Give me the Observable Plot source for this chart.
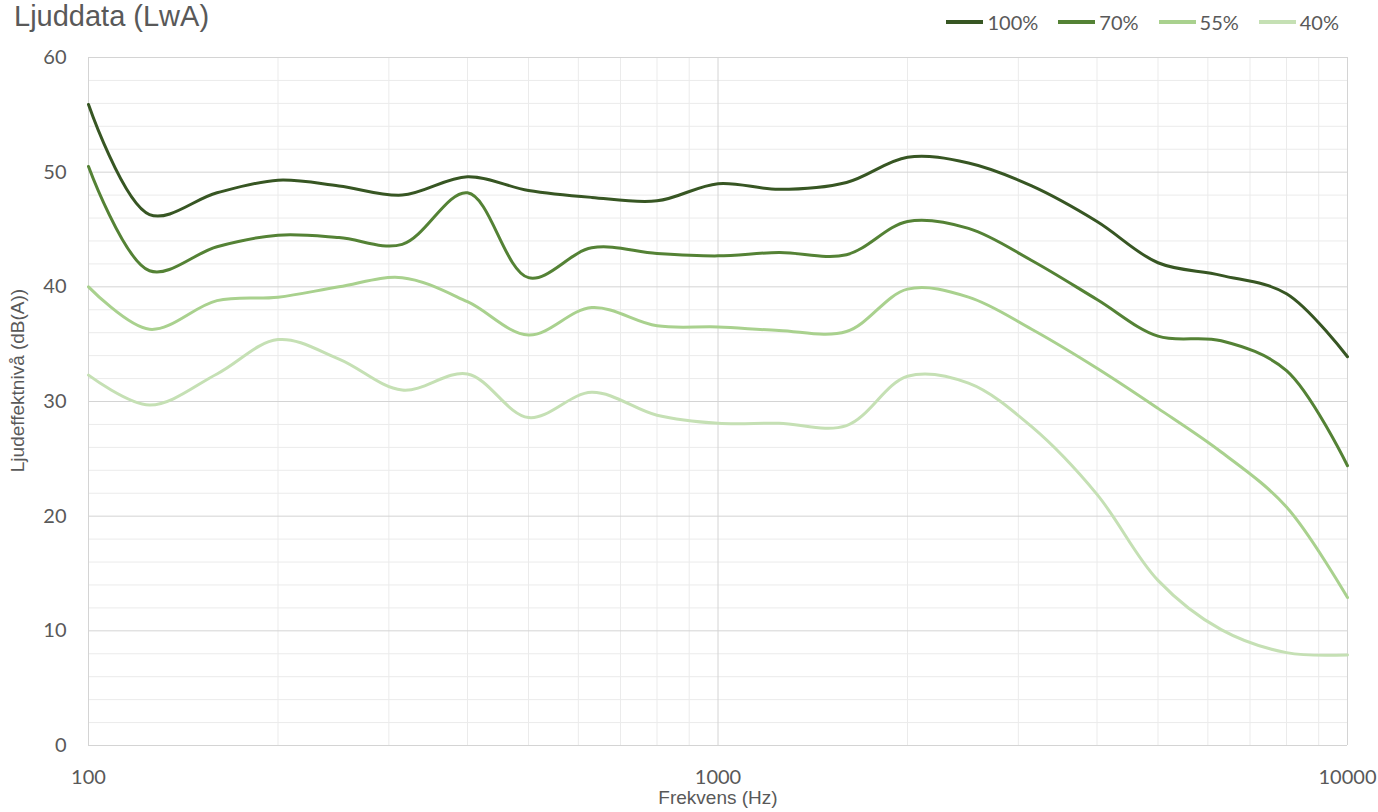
<!DOCTYPE html>
<html>
<head>
<meta charset="utf-8">
<script src="https://cdn.jsdelivr.net/npm/d3@7"></script>
<script src="https://cdn.jsdelivr.net/npm/@observablehq/plot@0.6"></script>
<style>
  body { margin: 0; background: #fff; }
  #wrap { position: relative; width: 1378px; height: 812px; overflow: hidden; background: #fff; }
  #header { position: relative; height: 40px; }
  #title { position: absolute; left: 14px; top: 2px; font: 29px "Liberation Sans", Arial, sans-serif; line-height: 1; color: #595959; white-space: nowrap; }
  #legend { position: absolute; right: 39px; top: 12px; height: 20px; display: flex; align-items: center; font: 20px Lato, "Open Sans", sans-serif; color: #595959; }
  .item { display: flex; align-items: center; margin-left: 20px; }
  .sw { width: 37px; height: 4px; margin-right: 4px; }
</style>
</head>
<body>
<div id="wrap">
  <div id="header">
    <div id="title">Ljuddata (LwA)</div>
    <div id="legend"></div>
  </div>
  <div id="chart"></div>
</div>
<script>
// Data: third-octave band centre frequencies (Hz)
const freqs = [100,125,160,200,250,315,400,500,630,800,1000,1250,1600,2000,2500,3150,4000,5000,6300,8000,10000];
const seriesNames = ["100%","70%","55%","40%"];
const seriesColors = ["#375623","#548235","#A9D18E","#C5E0B4"];
const v100 = [55.9,46.3,48.2,49.3,48.8,48.0,49.6,48.4,47.8,47.5,49.0,48.5,49.1,51.3,50.8,48.8,45.7,42.1,41.0,39.4,33.9];
const v70  = [50.5,41.4,43.5,44.5,44.3,43.7,48.2,40.8,43.4,42.9,42.7,43.0,42.8,45.7,45.1,42.3,38.9,35.7,35.3,32.7,24.4];
const v55  = [40.0,36.3,38.8,39.1,40.0,40.8,38.7,35.8,38.2,36.6,36.5,36.2,36.1,39.8,39.1,36.3,32.9,29.4,25.6,20.8,12.9];
const v40  = [32.3,29.7,32.4,35.4,33.7,31.0,32.4,28.6,30.8,28.8,28.1,28.1,27.9,32.2,31.6,27.8,21.9,14.4,10.1,8.1,7.9];
const xTicks = [100,1000,10000];
const yTicks = [0,10,20,30,40,50,60];
const yMinor = [2,4,6,8,12,14,16,18,22,24,26,28,32,34,36,38,42,44,46,48,52,54,56,58];
const xMinor = [200,300,400,500,600,700,800,900,2000,3000,4000,5000,6000,7000,8000,9000];
const xLabel = "Frekvens (Hz)";
const yLabel = "Ljudeffektnivå (dB(A))";

const allValues = [v100, v70, v55, v40];
const rows = [];
seriesNames.forEach((s, si) => {
  freqs.forEach((f, i) => rows.push({s, f, v: allValues[si][i]}));
});

// legend
const legend = document.getElementById("legend");
seriesNames.forEach((s, i) => {
  const it = document.createElement("div");
  it.className = "item";
  it.innerHTML = `<div class="sw" style="background:${seriesColors[i]}"></div><span>${s}</span>`;
  legend.appendChild(it);
});

const tickFont = "Lato, 'Open Sans', sans-serif";
const chart = Plot.plot({
  width: 1378,
  height: 772,
  marginTop: 17,
  marginBottom: 67,
  marginLeft: 88,
  marginRight: 31,
  x: {type: "log", domain: [100, 10000]},
  y: {domain: [0, 60]},
  color: {domain: seriesNames, range: seriesColors},
  style: {background: "white", color: "#595959", fontFamily: "'Liberation Sans', Arial, sans-serif"},
  marks: [
    Plot.ruleY(yMinor, {stroke: "#ebebeb", strokeWidth: 1}),
    Plot.ruleX(xMinor, {stroke: "#ebebeb", strokeWidth: 1}),
    Plot.ruleY(yTicks, {stroke: "#d4d4d4", strokeWidth: 1}),
    Plot.ruleX(xTicks, {stroke: "#d4d4d4", strokeWidth: 1}),
    Plot.line(rows, {x: "f", y: "v", z: "s", stroke: "s", strokeWidth: 3, curve: "catmull-rom"}),
    Plot.axisX(xTicks, {tickSize: 0, tickPadding: 24, fontSize: 20, fontFamily: tickFont, fill: "#595959", tickFormat: d => String(d), label: null}),
    Plot.axisY(yTicks, {tickSize: 0, tickPadding: 22, fontSize: 20, fontFamily: tickFont, fill: "#595959", label: null}),
    Plot.text([xLabel], {frameAnchor: "bottom", dy: 58, text: d => d, fontSize: 19, fill: "#595959", textAnchor: "middle"}),
    Plot.text([yLabel], {frameAnchor: "left", dx: -71, dy: -21, rotate: -90, text: d => d, fontSize: 19, fill: "#595959", textAnchor: "middle"})
  ]
});
document.getElementById("chart").appendChild(chart);
</script>
</body>
</html>
